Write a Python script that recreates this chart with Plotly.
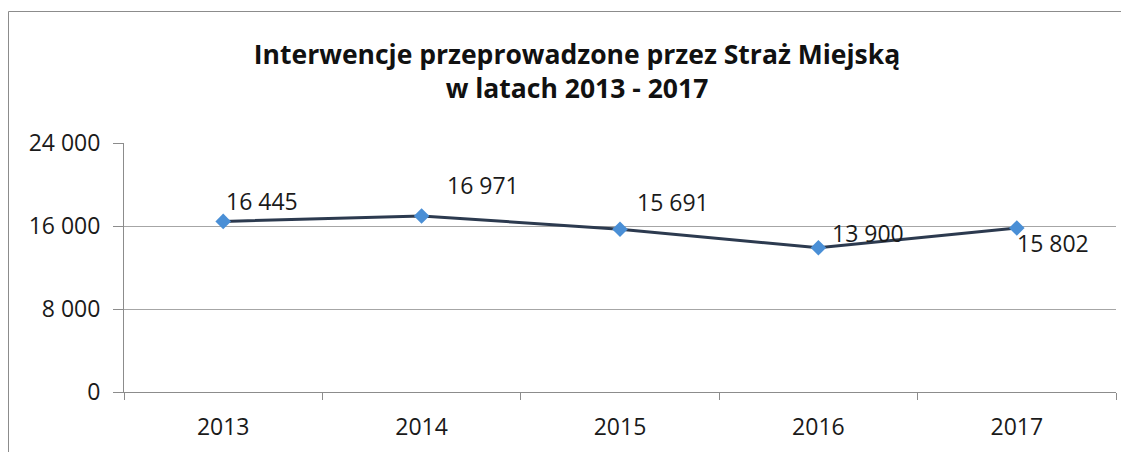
import plotly.graph_objects as go

years = ["2013", "2014", "2015", "2016", "2017"]
values = [16445, 16971, 15691, 13900, 15802]
y_ticks = [0, 8000, 16000, 24000]
y_tick_labels = ["0", "8 000", "16 000", "24 000"]

# label offsets (style) in pixels: (xshift, yshift)
label_offsets = [(39, 20), (61, 31), (53, 27), (50, 15), (36, -15)]

FONT = "Open Sans"
OFF = 8  # page body margin

fig = go.Figure()
fig.add_trace(go.Scatter(
    x=years, y=values, mode="lines+markers",
    line=dict(color="#2C3A4F", width=3),
    marker=dict(symbol="diamond", size=12, color="#4A8FD6", line=dict(width=0)),
    hoverinfo="skip", showlegend=False,
))

for i, (v, (dx, dy)) in enumerate(zip(values, label_offsets)):
    fig.add_annotation(
        x=i, y=v, xref="x", yref="y", text=f"{v:,}".replace(",", " "), showarrow=False,
        xshift=dx, yshift=dy, font=dict(family=FONT, size=23, color="#1a1a1a"),
    )

W, H = 1129, 452
L, R, T, B = 124 - OFF, 1116 - OFF, 143 - OFF, 392 - OFF
pw, ph = R - L, B - T

def px(x):
    return (x - OFF - L) / pw

def py(y):
    return (B - (y - OFF)) / ph

fig.add_shape(type="rect", xref="paper", yref="paper",
              x0=px(8.5), x1=px(1150), y0=py(11.5), y1=py(480),
              line=dict(color="#8C8C8C", width=1), fillcolor="rgba(0,0,0,0)", layer="below")

fig.update_layout(
    width=W, height=H,
    margin=dict(l=L, r=W - R, t=T, b=H - B),
    paper_bgcolor="white", plot_bgcolor="white",
    separators=", ",
    title=dict(
        text="<b>Interwencje przeprowadzone przez Straż Miejską<br>w latach 2013 - 2017</b>",
        x=(577 - OFF) / W, xanchor="center", y=1 - (64 - OFF) / H, yanchor="middle",
        xref="container", yref="container",
        font=dict(family=FONT, size=26.5, color="#111111"),
    ),
    xaxis=dict(
        type="category", range=[-0.5, 4.5], tickson="boundaries",
        ticks="outside", ticklen=7, tickcolor="#8C8C8C", tickwidth=1,
        showline=True, linecolor="#8C8C8C", linewidth=1,
        showgrid=False, zeroline=False,
        tickfont=dict(family=FONT, size=23, color="#1a1a1a"),
        ticklabelstandoff=14,
    ),
    yaxis=dict(
        range=[0, 24000], tickvals=y_ticks, ticktext=y_tick_labels,
        ticks="outside", ticklen=10, tickcolor="#8C8C8C", tickwidth=1,
        showline=True, linecolor="#8C8C8C", linewidth=1,
        showgrid=True, gridcolor="#A6A6A6", gridwidth=1,
        zeroline=False,
        tickfont=dict(family=FONT, size=23, color="#1a1a1a"),
        ticklabelstandoff=8,
    ),
)

fig.write_html("out.html")
